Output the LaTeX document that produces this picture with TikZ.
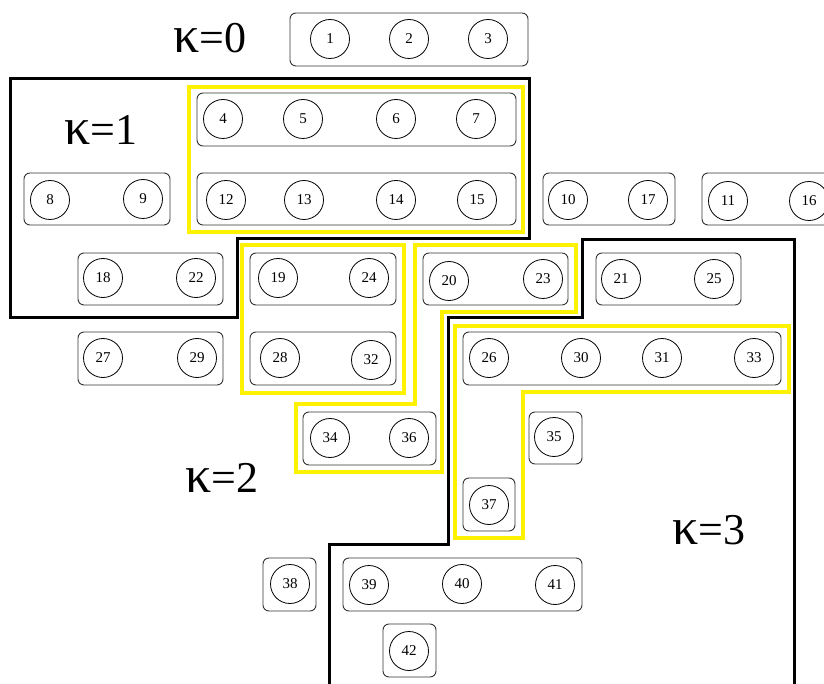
\documentclass[tikz,border=0pt]{standalone}
\usepackage{fontspec}
\setmainfont{Liberation Serif}
\usepackage{tikz}

\newcommand{\kap}{{\fontsize{52}{52}\selectfont κ}}

\begin{document}
\begin{tikzpicture}[x=1pt,y=-1pt,
    site/.style={circle,draw,line width=0.8pt,minimum size=39pt,inner sep=0pt,font=\fontsize{15}{15}\selectfont},
    grp/.style={draw=black!80,line width=0.9pt,rounded corners=6pt},
    hl/.style={draw=yellow,line width=3.5pt},
    part/.style={draw,line width=3pt},
    lvl/.style={font=\fontsize{44}{44}\selectfont,inner sep=0pt}]
  \useasboundingbox (0,0) rectangle (824,684);
  % yellow highlights
  \draw[hl] (189,87) rectangle (523,232);
  \draw[hl] (242,245) rectangle (404,393);
  \draw[hl] (415,245) -- (576,245) -- (576,312) -- (442,312) -- (442,472) -- (296,472) -- (296,404) -- (415,404) -- cycle;
  \draw[hl] (455,326) -- (789,326) -- (789,392) -- (523,392) -- (523,538) -- (455,538) -- cycle;
  % partitions
  \draw[part] (10,79) -- (529,79) -- (529,239) -- (237,239) -- (237,318) -- (10,318) -- cycle;
  \draw[part] (329,700) -- (329,544) -- (448,544) -- (448,318) -- (582,318) -- (582,240) -- (794,240) -- (794,700);
  % groups
  \foreach \xa/\ya/\xb/\yb in {290/13/528/66, 197/93/516/146, 197/173/516/225, 24/173/170/225,
      543/173/675/225, 702/173/848/225, 78/253/223/305, 250/253/396/305, 423/253/568/305,
      596/253/741/305, 78/332/223/385, 250/332/396/385, 463/332/781/385, 303/412/436/465,
      529/412/582/464, 463/478/515/531, 263/558/316/611, 343/558/582/611, 383/624/436/677}
    \draw[grp] (\xa,\ya) rectangle (\xb,\yb);
  % sites
  \foreach \n/\x/\y in {1/330/39, 2/409/39, 3/488/39,
      4/223/119, 5/303/119, 6/396/119, 7/476/119,
      8/50/200, 9/143/199, 10/568/200, 17/648/200, 11/728/201, 16/809/201,
      12/226/200, 13/304/200, 14/396/200, 15/477/200,
      18/103/278, 22/196/278, 19/278/278, 24/369/278, 20/449/281, 23/543/279, 21/621/279, 25/714/279,
      27/103/358, 29/197/358, 28/280/358, 32/371/360, 26/489/358, 30/581/358, 31/662/358, 33/754/358,
      34/330/438, 36/409/438, 35/554/437, 37/489/505,
      38/290/584, 39/369/585, 40/462/584, 41/555/585, 42/409/651}
    \node[site] (s\n) at (\x,\y) {\n};
  % levels
  \node[lvl] (k0) at (210,38) {\kap=0};
  \node[lvl] (k1) at (101,130) {\kap=1};
  \node[lvl] (k2) at (222,478) {\kap=2};
  \node[lvl] (k3) at (709,530) {\kap=3};
\end{tikzpicture}
\end{document}
